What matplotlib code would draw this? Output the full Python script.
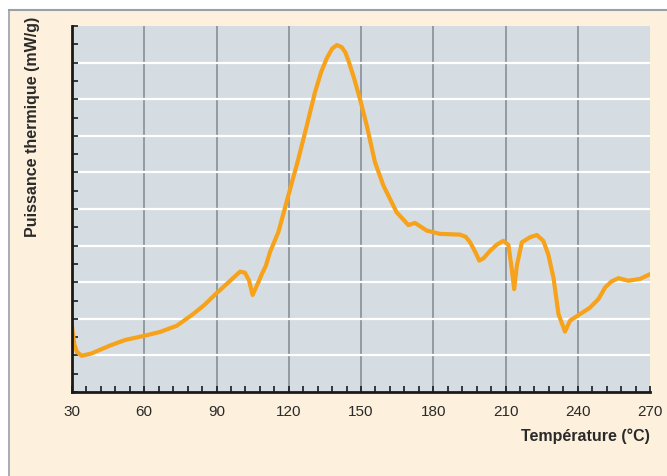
import matplotlib
matplotlib.use("Agg")
import matplotlib.pyplot as plt
from matplotlib.ticker import MultipleLocator
from matplotlib.patches import Rectangle
from matplotlib.lines import Line2D

temperature = [30, 31, 32, 34, 38, 45.8, 52, 60.3, 66.5, 73.5, 80.3, 85, 89.7, 94.2, 97.5, 99.8,
               101.8, 103.5, 105, 108, 108.8, 110.5, 112.2, 115.7, 119.8, 124, 127.5, 130.9, 133.5,
               135.8, 138, 140, 142, 143.5, 144.8, 147, 149.6, 152.4, 155.8, 159.3, 164.8, 169.7,
               172.4, 177.3, 182.8, 191.1, 193.5, 195.3, 197.5, 199.1, 201, 203.6, 206.5, 209.1,
               211.2, 212.6, 213.6, 214.7, 216.8, 220.2, 223, 225.7, 227.8, 229.9, 232, 234.7,
               236.8, 241, 245, 248.6, 251.4, 254, 256.9, 261, 265.9, 270]
puissance = [1.78, 1.3, 1.1, 0.99, 1.05, 1.27, 1.42, 1.54, 1.64, 1.81, 2.13, 2.38, 2.68, 2.95,
             3.15, 3.29, 3.26, 3.05, 2.65, 3.09, 3.22, 3.45, 3.82, 4.37, 5.36, 6.37, 7.28, 8.19,
             8.75, 9.12, 9.38, 9.48, 9.42, 9.28, 9.05, 8.6, 8.0, 7.28, 6.28, 5.64, 4.91, 4.56,
             4.62, 4.41, 4.32, 4.30, 4.24, 4.09, 3.82, 3.59, 3.66, 3.86, 4.03, 4.13, 4.02, 3.36,
             2.81, 3.45, 4.09, 4.23, 4.29, 4.13, 3.75, 3.13, 2.13, 1.65, 1.95, 2.13, 2.3, 2.54,
             2.86, 3.02, 3.11, 3.04, 3.09, 3.22]

x_ticks = [30, 60, 90, 120, 150, 180, 210, 240, 270]
x_label = "Température (°C)"
y_label = "Puissance thermique (mW/g)"

plt.rcParams['font.family'] = ['Liberation Sans', 'DejaVu Sans']

fig = plt.figure(figsize=(6.67, 4.77), dpi=100)
fig.patch.set_facecolor('white')
W, H = 667, 477

# background panel axes
bg = fig.add_axes([0, 0, 1, 1], zorder=-5)
bg.set_xlim(0, W)
bg.set_ylim(H, 0)
bg.axis('off')
bg.add_patch(Rectangle((9, 11), W - 9, H - 11, facecolor='#fdf0dc', edgecolor='none'))
bg.plot([9, W], [11, 11], color='#98a1a8', lw=1.5)
bg.plot([9, 9], [11, H], color='#98a1a8', lw=1.2)

ax = fig.add_axes([72 / W, (H - 393) / H, (650 - 72) / W, (393 - 27) / H], zorder=1)
ax.set_facecolor('#d5dde2')
ax.set_xlim(30, 270)
ax.set_ylim(0, 10)

for v in x_ticks[1:-1]:
    ax.axvline(v, color='#8c969e', lw=1.3, zorder=1)
for v in range(1, 10):
    ax.axhline(v, color='white', lw=1.6, zorder=1)

ax.plot(temperature, puissance, color='#f7a21b', lw=3, solid_joinstyle='round',
        solid_capstyle='round', zorder=3)

for s in ['top', 'right']:
    ax.spines[s].set_visible(False)
for s in ['left', 'bottom']:
    ax.spines[s].set_linewidth(2)
    ax.spines[s].set_color('#1a1a1a')
    ax.spines[s].set_zorder(4)

ax.set_xticks(x_ticks)
ax.set_xticklabels([str(v) for v in x_ticks])
ax.xaxis.set_minor_locator(MultipleLocator(6))
ax.yaxis.set_major_locator(MultipleLocator(0.5))
ax.set_yticklabels([])
ax.tick_params(axis='x', which='both', direction='in', length=4, width=1.2, color='#1a1a1a',
               pad=9, labelsize=11, labelcolor='#2a2a2a')
ax.tick_params(axis='y', which='both', direction='in', length=4, width=1.2, color='#1a1a1a')

fig.text(650 / W, 1 - 436 / H, x_label, ha='right', va='center', fontsize=11.5,
         fontweight='bold', color='#2a2a2a')
fig.text(33 / W, 1 - 127 / H, y_label, ha='center', va='center', rotation=90, fontsize=11.5,
         fontweight='bold', color='#2a2a2a')

fig.savefig('out.png', dpi=100, facecolor=fig.get_facecolor())
